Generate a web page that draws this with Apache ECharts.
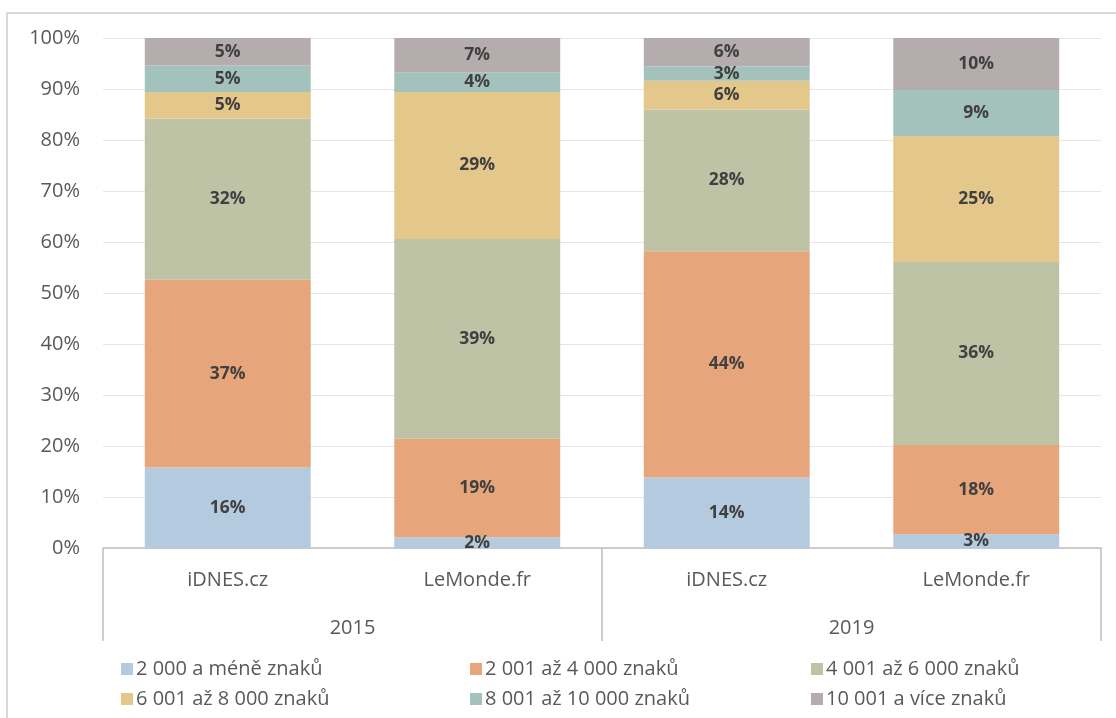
<!DOCTYPE html>
<html>
<head>
<meta charset="utf-8">
<script src="https://cdn.jsdelivr.net/npm/echarts@6/dist/echarts.min.js"></script>
<style>html,body{margin:0;padding:0;background:#fff;}#c{width:1116px;height:718px;}</style>
</head>
<body>
<div id="c"></div>
<script>
const categories = ['iDNES.cz', 'LeMonde.fr', 'iDNES.cz', 'LeMonde.fr'];
const years = ['2015', '2019'];
const seriesNames = ['2 000 a méně znaků', '2 001 až 4 000 znaků', '4 001 až 6 000 znaků', '6 001 až 8 000 znaků', '8 001 až 10 000 znaků', '10 001 a více znaků'];
const s1 = [15.8, 2.1, 13.8, 2.7];
const s2 = [36.8, 19.3, 44.4, 17.5];
const s3 = [31.6, 39.2, 27.8, 35.9];
const s4 = [5.2, 28.8, 5.6, 24.7];
const s5 = [5.2, 3.9, 2.8, 9.0];
const s6 = [5.4, 6.7, 5.6, 10.2];
const yTicks = [0, 10, 20, 30, 40, 50, 60, 70, 80, 90, 100];

const values = [s1, s2, s3, s4, s5, s6];
const colors = ['#b4cadf', '#e7a57b', '#bec3a6', '#e4c78a', '#a3c2bb', '#b5adad'];
const FONT = '"Open Sans", "Liberation Sans", sans-serif';

const chart = echarts.init(document.getElementById('c'));
const series = values.map((v, i) => ({
  name: seriesNames[i],
  type: 'bar',
  stack: 'total',
  barCategoryGap: '33.5%',
  data: v,
  itemStyle: { color: colors[i] },
  label: {
    show: true,
    position: 'inside',
    formatter: p => Math.round(p.value) + '%',
    color: '#404040',
    fontWeight: 'bold',
    fontSize: 17.5,
    fontFamily: FONT
  }
}));

const legendPos = [[116, 654], [465, 654], [806, 654], [116, 684], [465, 684], [806, 684]];
const legends = seriesNames.map((n, i) => ({
  data: [n],
  left: legendPos[i][0],
  top: legendPos[i][1],
  itemWidth: 12,
  itemHeight: 12,
  itemGap: 4,
  icon: 'rect',
  selectedMode: false,
  textStyle: { color: '#595959', fontSize: 20, fontFamily: FONT, padding: [0, 0, 0, -2] }
}));

chart.setOption({
  animation: false,
  backgroundColor: '#fff',
  textStyle: { fontFamily: FONT },
  graphic: [{
    type: 'rect',
    shape: { x: 7, y: 13, width: 1200, height: 800 },
    style: { fill: 'none', stroke: '#d9d9d9', lineWidth: 2 },
    silent: true
  }],
  legend: legends,
  grid: { left: 103, right: 15, top: 38, bottom: 170 },
  xAxis: [{
    type: 'category',
    data: categories,
    position: 'bottom',
    axisLine: { show: true, lineStyle: { color: '#bfbfbf', width: 1.5 } },
    axisTick: { show: false },
    axisLabel: { color: '#595959', fontSize: 20, fontFamily: FONT, margin: 22 }
  }, {
    type: 'category',
    data: years,
    position: 'bottom',
    axisLine: { show: false },
    axisTick: { show: true, length: 93, lineStyle: { color: '#bfbfbf', width: 1.5 } },
    axisLabel: { color: '#595959', fontSize: 20, fontFamily: FONT, margin: 70 }
  }],
  yAxis: {
    type: 'value',
    min: yTicks[0],
    max: yTicks[yTicks.length - 1],
    interval: 10,
    axisLine: { show: false },
    axisTick: { show: false },
    splitLine: { lineStyle: { color: '#e6e6e6', width: 1 } },
    axisLabel: { formatter: '{value}%', color: '#595959', fontSize: 20, fontFamily: FONT, margin: 23 }
  },
  series: series
});
</script>
</body>
</html>
